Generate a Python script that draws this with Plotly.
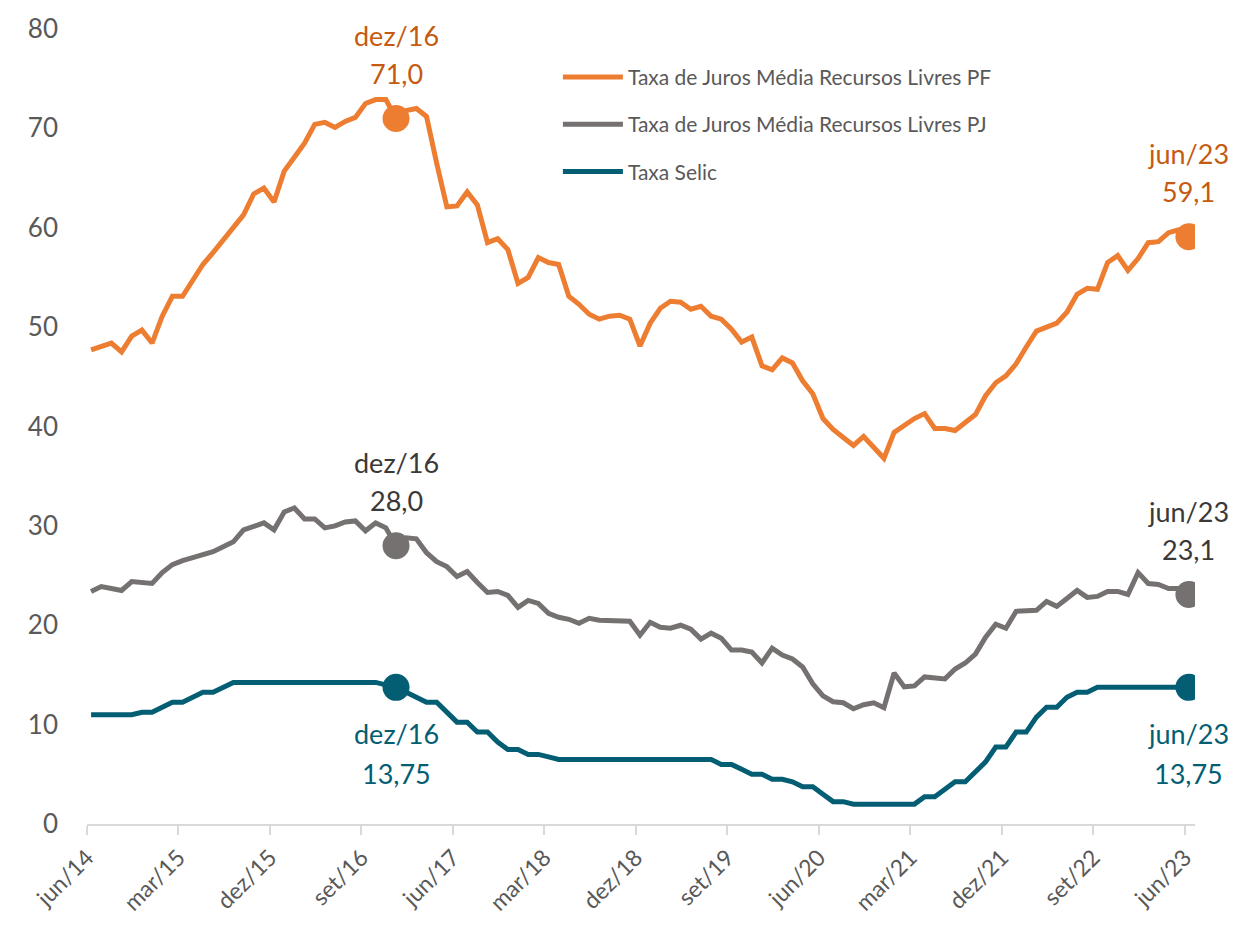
import numpy as np
import plotly.graph_objects as go

# Monthly series, jun/14 .. jun/23 (109 months)
taxa_pf = [
    47.7, 48.0, 48.4, 47.5, 49.1, 49.7, 48.4, 51.1, 53.1, 53.1,
    54.8, 56.3, 57.5, 58.8, 60.0, 61.3, 63.4, 64.0, 62.6, 65.7,
    67.1, 68.5, 70.4, 70.6, 70.1, 70.7, 71.1, 72.5, 72.9, 72.9,
    71.0, 71.8, 72.0, 71.2, 66.5, 62.1, 62.2, 63.6, 62.3, 58.5,
    58.9, 57.8, 54.4, 55.0, 57.0, 56.5, 56.3, 53.1, 52.3, 51.3,
    50.8, 51.1, 51.2, 50.8, 48.1, 50.4, 51.9, 52.6, 52.5, 51.8,
    52.1, 51.1, 50.8, 49.8, 48.5, 49.0, 46.1, 45.7, 46.9, 46.4,
    44.6, 43.3, 40.8, 39.7, 38.9, 38.1, 39.0, 37.9, 36.8, 39.4,
    40.1, 40.8, 41.3, 39.8, 39.8, 39.6, 40.4, 41.2, 43.1, 44.4,
    45.1, 46.3, 48.0, 49.6, 50.0, 50.4, 51.5, 53.3, 53.9, 53.8,
    56.5, 57.2, 55.7, 56.9, 58.5, 58.6, 59.5, 59.8, 59.1,
]

taxa_pj = [
    23.4, 23.9, 23.7, 23.5, 24.4, 24.3, 24.2, 25.3, 26.1, 26.5,
    26.8, 27.0, 27.4, 27.9, 28.4, 29.6, 30.0, 30.3, 29.6, 31.4,
    31.8, 30.7, 30.7, 29.8, 30.0, 30.4, 30.5, 29.5, 30.3, 29.8,
    28.0, 28.8, 28.7, 27.3, 26.4, 25.9, 24.9, 25.4, 24.3, 23.3,
    23.4, 23.0, 21.8, 22.5, 22.2, 21.2, 20.8, 20.6, 20.2, 20.7,
    20.5, 20.5, 20.5, 20.4, 19.0, 20.3, 19.8, 19.7, 20.0, 19.6,
    18.6, 19.2, 18.7, 17.5, 17.5, 17.3, 16.2, 17.7, 17.0, 16.6,
    15.8, 14.1, 12.9, 12.3, 12.2, 11.6, 12.0, 12.2, 11.7, 15.2,
    13.8, 13.9, 14.8, 14.7, 14.6, 15.6, 16.2, 17.1, 18.8, 20.1,
    19.7, 21.4, 21.5, 21.5, 22.4, 21.9, 22.7, 23.5, 22.8, 22.9,
    23.4, 23.4, 23.1, 25.3, 24.2, 24.1, 23.7, 23.7, 23.1,
]

taxa_selic = [
    11.00, 11.00, 11.00, 11.00, 11.00, 11.25, 11.25, 11.75, 12.25, 12.25,
    12.75, 13.25, 13.25, 13.75, 14.25, 14.25, 14.25, 14.25, 14.25, 14.25,
    14.25, 14.25, 14.25, 14.25, 14.25, 14.25, 14.25, 14.25, 14.25, 14.00,
    13.75, 13.25, 12.75, 12.25, 12.25, 11.25, 10.25, 10.25, 9.25, 9.25,
    8.25, 7.50, 7.50, 7.00, 7.00, 6.75, 6.50, 6.50, 6.50, 6.50,
    6.50, 6.50, 6.50, 6.50, 6.50, 6.50, 6.50, 6.50, 6.50, 6.50,
    6.50, 6.50, 6.00, 6.00, 5.50, 5.00, 5.00, 4.50, 4.50, 4.25,
    3.75, 3.75, 3.00, 2.25, 2.25, 2.00, 2.00, 2.00, 2.00, 2.00,
    2.00, 2.00, 2.75, 2.75, 3.50, 4.25, 4.25, 5.25, 6.25, 7.75,
    7.75, 9.25, 9.25, 10.75, 11.75, 11.75, 12.75, 13.25, 13.25, 13.75,
    13.75, 13.75, 13.75, 13.75, 13.75, 13.75, 13.75, 13.75, 13.75,
]

tick_labels = ["jun/14", "mar/15", "dez/15", "set/16", "jun/17", "mar/18", "dez/18",
               "set/19", "jun/20", "mar/21", "dez/21", "set/22", "jun/23"]

# highlighted months (index into the series) and their labels
destaques = [30, 108]
destaque_labels = ["dez/16", "jun/23"]

series = [
    ("Taxa de Juros Média Recursos Livres PF", taxa_pf, "#ED7D31", "#C55A11", 1),
    ("Taxa de Juros Média Recursos Livres PJ", taxa_pj, "#767171", "#3B3838", 1),
    ("Taxa Selic", taxa_selic, "#035E74", "#035E74", 2),
]

FONT = "Lato"
n = len(taxa_pf)
x = np.arange(n) + 0.4          # points sit mid-month, ticks at month start
tickpos = np.arange(0, n, 9)

fig = go.Figure()

for name, vals, color, txtcolor, dec in series:
    fig.add_trace(go.Scatter(
        x=x, y=vals, mode="lines", name=name, legendgroup=name,
        line=dict(color=color, width=5),
    ))

annotations = []
for name, vals, color, txtcolor, dec in series:
    hx = [x[i] for i in destaques]
    hy = [vals[i] for i in destaques]
    fig.add_trace(go.Scatter(
        x=hx, y=hy, mode="markers", showlegend=False, hoverinfo="skip",
        marker=dict(color=color, size=27),
    ))
    for i, lab in zip(destaques, destaque_labels):
        val = vals[i]
        txt = (f"{val:.{dec}f}").replace(".", ",")
        if dec == 2:
            shifts = (-46, -86)   # below the marker
        else:
            shifts = (83, 45)     # above the marker
        for s, t in zip(shifts, (lab, txt)):
            annotations.append(dict(
                x=x[i], y=val, xref="x", yref="y", text=t, showarrow=False,
                yshift=s, xanchor="center", yanchor="middle",
                font=dict(family=FONT, size=27, color=txtcolor),
            ))

fig.update_layout(
    width=1235, height=929,
    margin=dict(l=87, r=40, t=25, b=105),
    paper_bgcolor="white", plot_bgcolor="white",
    font=dict(family=FONT, color="#595959"),
    showlegend=True,
    legend=dict(
        x=0.425, y=0.965, xanchor="left", yanchor="top",
        font=dict(family=FONT, size=21, color="#595959"),
        bgcolor="rgba(0,0,0,0)", traceorder="grouped", tracegroupgap=17,
        itemwidth=60,
    ),
    annotations=annotations,
)

fig.update_xaxes(
    range=[0, 109], tickmode="array", tickvals=tickpos, ticktext=tick_labels,
    tickangle=-45, tickfont=dict(family=FONT, size=23, color="#595959"),
    showline=True, linecolor="#D9D9D9", linewidth=2,
    ticks="outside", ticklen=9, tickcolor="#D9D9D9", tickwidth=2,
    showgrid=False, zeroline=False,
)
fig.update_yaxes(
    range=[0, 80], tickmode="array", tickvals=list(range(0, 81, 10)),
    tickfont=dict(family=FONT, size=26, color="#595959"),
    showline=False, showgrid=False, zeroline=False, ticklabelstandoff=28,
)

fig.write_html("out.html")
